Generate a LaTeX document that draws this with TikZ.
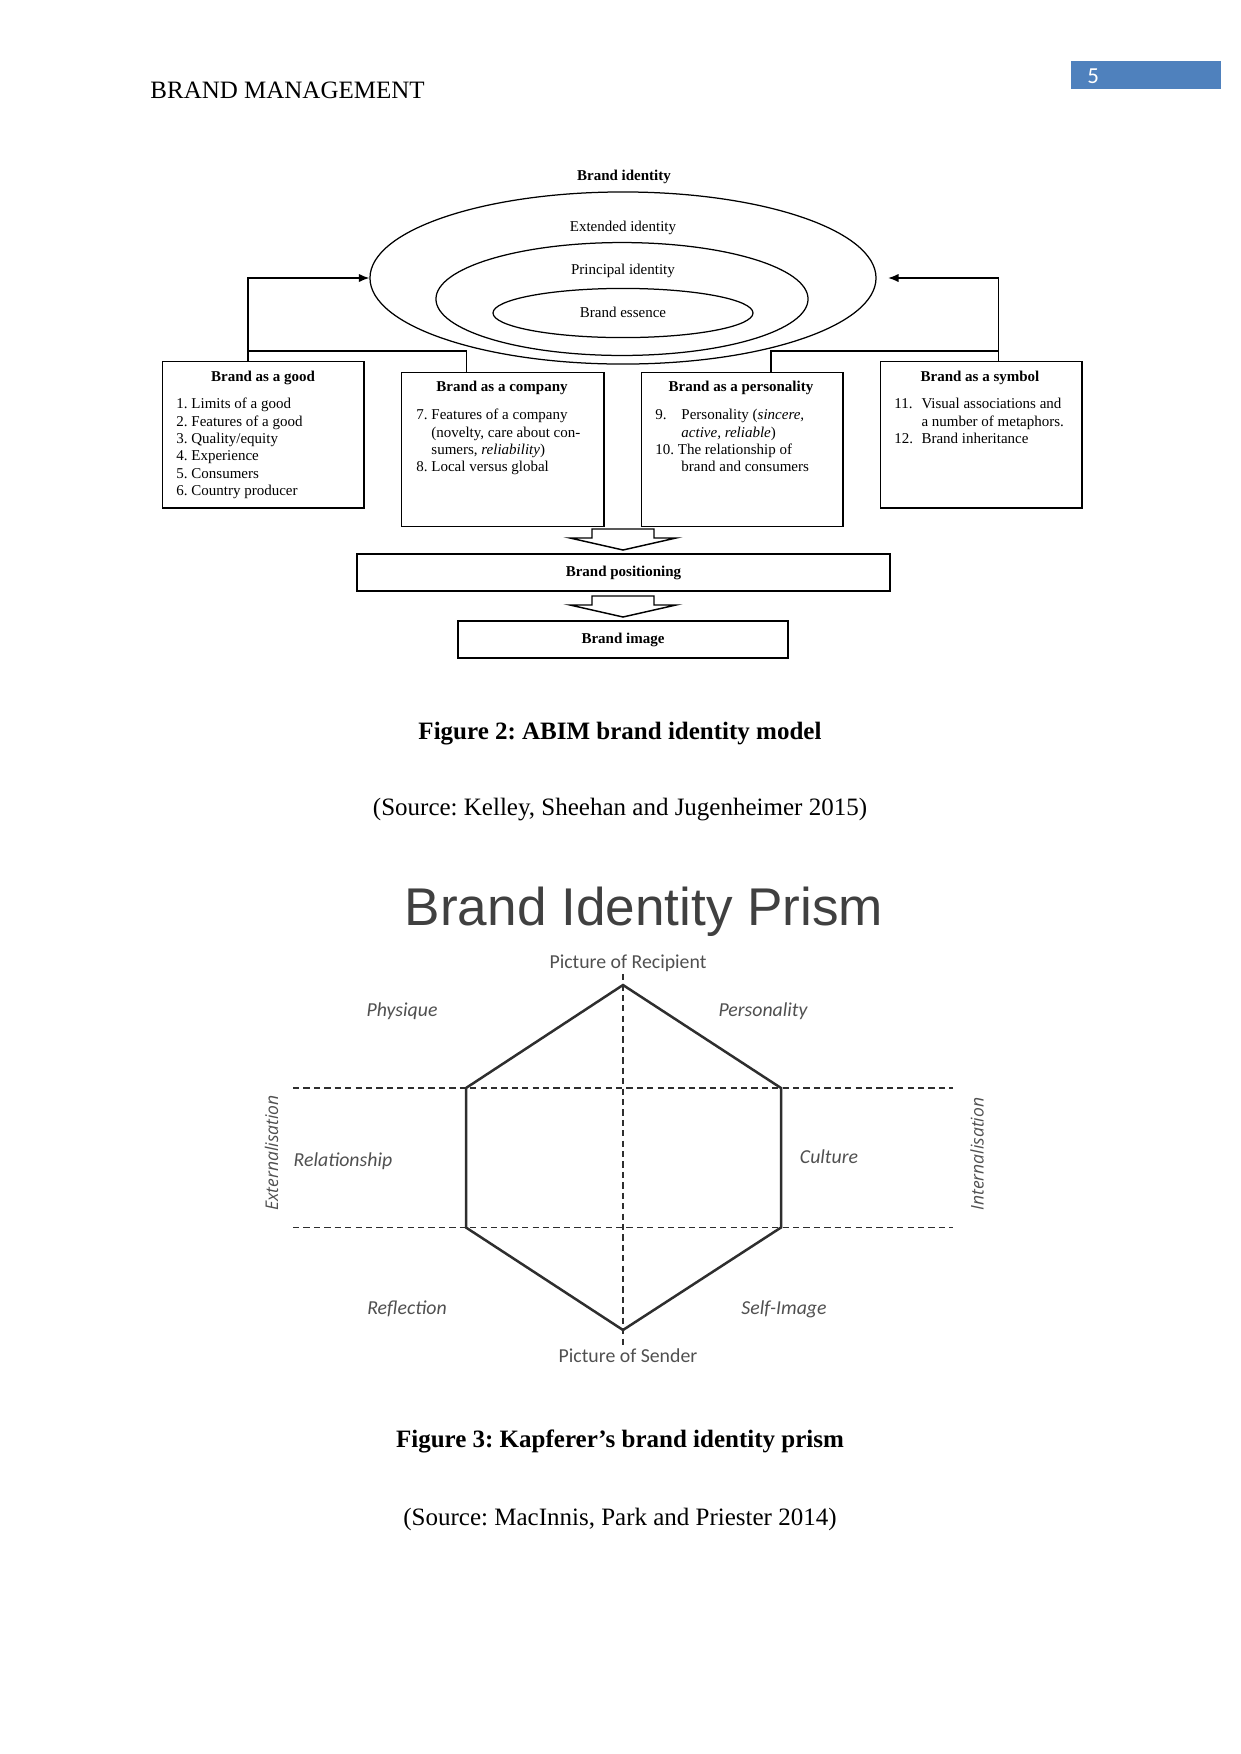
\documentclass[tikz,border=0pt]{standalone}
\usepackage{fontspec}
\setmainfont{Liberation Serif}
\newfontfamily\calibrifont{Carlito}
\newfontfamily\opensansfont{Open Sans}
\newfontfamily\prismfont{Liberation Sans}
\usepackage{xcolor}
\usetikzlibrary{arrows.meta,shapes.geometric,positioning}
\frenchspacing

\definecolor{pageblue}{HTML}{4F81BD}
\definecolor{prismgray}{HTML}{404040}
\definecolor{labelgray}{HTML}{505050}
\definecolor{linegray}{HTML}{2E2E2E}

\tikzset{
    figtext/.style={inner sep=0, font=\fontsize{7.2}{8.3}\selectfont},
    boldtext/.style={inner sep=0, font=\fontsize{7.2}{8.3}\selectfont\bfseries},
    factor/.style={draw, line width=0.7pt, anchor=north west, inner sep=0, minimum width=96.5pt},
    stage/.style={draw, line width=0.7pt, inner sep=0, minimum height=17.8pt, font=\fontsize{7.2}{8.3}\selectfont\bfseries},
    ring/.style={draw, ellipse, line width=0.6pt, inner sep=0},
    link/.style={line width=0.7pt},
    caption/.style={inner sep=0, anchor=base, font=\fontsize{12}{14}\selectfont},
    facet/.style={inner sep=1pt, text=labelgray, font=\calibrifont\itshape\fontsize{9.5}{11}\selectfont},
    pole/.style={inner sep=1pt, text=labelgray, font=\calibrifont\fontsize{9.5}{11}\selectfont},
    axislabel/.style={inner sep=0, text=labelgray, rotate=90, font=\opensansfont\itshape\fontsize{8.4}{10}\selectfont},
    prism/.style={draw=linegray, line width=1.2pt, line join=miter},
    guide/.style={draw=linegray, line width=0.5pt, dash pattern=on 3pt off 2pt}
}

\begin{document}
\begin{tikzpicture}[x=0.48pt, y=-0.48pt]
    \useasboundingbox (0,0) rectangle (1241,1754);

    % Header
    \node[anchor=base west, inner sep=0, font=\fontsize{12}{14}\selectfont] (header) at (150,98.5) {BRAND MANAGEMENT};
    \node[fill=pageblue, anchor=north west, minimum width=72pt, minimum height=13pt, inner sep=0] (pagebox) at (1071,61) {};
    \node[anchor=base west, inner sep=0, text=white, font=\calibrifont\fontsize{11}{13}\selectfont] (pagenum) at (1087,83) {5};

    % Identity rings
    \node[ring, minimum width=242.9pt, minimum height=82.6pt] (outer) at (623,278) {};
    \node[ring, minimum width=178.6pt, minimum height=54.2pt] (middle) at (622,299) {};
    \node[ring, minimum width=124.8pt, minimum height=23.6pt] (inner) at (623,313) {};
    \node[boldtext] (identity) at (624,177) {Brand identity};
    \node[figtext] (extended) at (623,228) {Extended identity};
    \node[figtext] (principal) at (623,271) {Principal identity};
    \node[figtext] (essence) at (623,312) {Brand essence};

    % Four perspectives
    \node[factor, minimum height=70.1pt] (good) at (162,361) {};
    \node[factor, minimum height=73.9pt, minimum width=97pt] (company) at (401,372) {};
    \node[factor, minimum height=73.9pt] (personality) at (641,372) {};
    \node[factor, minimum height=70.1pt] (symbol) at (880,361) {};

    \node[boldtext] (goodtitle) at (263,378) {Brand as a good};
    \node[boldtext] (companytitle) at (502,388) {Brand as a company};
    \node[boldtext] (personalitytitle) at (741,388) {Brand as a personality};
    \node[boldtext] (symboltitle) at (980,378) {Brand as a symbol};

    \node[figtext, align=left, anchor=north west] (goodlist) at (176,398)
        {1. Limits of a good\\2. Features of a good\\3. Quality/equity\\4. Experience\\5. Consumers\\6. Country producer};
    \node[figtext, align=left, anchor=north west] (companylist) at (416,409)
        {7. Features of a company\\\phantom{7. }(novelty, care about con-\\\phantom{7. }sumers, \textit{reliability})\\8. Local versus global};
    \node[figtext, align=left, anchor=north west] (personalitylist) at (655,409)
        {\makebox[12.5pt][l]{9.}Personality (\textit{sincere,}\\\hspace*{12.5pt}\textit{active, reliable})\\10. The relationship of\\\hspace*{12.5pt}brand and consumers};
    \node[figtext, align=left, anchor=north west] (symbollist) at (894,398)
        {\makebox[13pt][l]{11.}Visual associations and\\\hspace*{13pt}a number of metaphors.\\\makebox[13pt][l]{12.}Brand inheritance};

    % Links to the identity
    \draw[link, -{Latex[length=5pt,width=4pt]}] ([xshift=-7.4pt]good.north) |- (outer.west);
    \draw[link, -{Latex[length=5pt,width=4pt]}, shorten >=5.5pt] ([xshift=8.4pt]symbol.north) |- (outer.east);
    \draw[link] ([xshift=-7.4pt,yshift=4.8pt]good.north) -| ([xshift=-17.3pt]company.north);
    \draw[link] ([xshift=8.4pt,yshift=4.8pt]symbol.north) -| ([xshift=13.7pt]personality.north);

    % Positioning and image
    \node[stage, minimum width=255.8pt] (positioning) at (623.5,572.5) {Brand positioning};
    \node[stage, minimum width=158.4pt] (image) at (623,639.5) {Brand image};
    \foreach \y in {529,596} {
        \draw[link, line join=miter] (592,\y) -- (592,\y+9) -- (570,\y+9) -- (623,\y+21)
            -- (676,\y+9) -- (654,\y+9) -- (654,\y) -- cycle;
    }

    % Caption of figure 2
    \node[caption] (fig2cap) at (620,739) {\bfseries Figure 2: ABIM brand identity model};
    \node[caption] (fig2src) at (620,815) {(Source: Kelley, Sheehan and Jugenheimer 2015)};

    % Prism
    \node[anchor=base, inner sep=0, text=prismgray, font=\prismfont\fontsize{25.5}{30}\selectfont] (prismtitle) at (644,925) {Brand Identity Prism};

    \coordinate (ptop) at (623,985);
    \coordinate (pul) at (466,1088);
    \coordinate (pur) at (781,1088);
    \coordinate (pll) at (466,1227.5);
    \coordinate (plr) at (781,1227.5);
    \coordinate (pbot) at (623,1330);
    \coordinate (gl1) at (293,1088);
    \coordinate (gr1) at (953,1088);
    \coordinate (gl2) at (293,1227.5);
    \coordinate (gr2) at (953,1227.5);

    \draw[guide] (gl1) -- (gr1);
    \draw[guide] (gl2) -- (gr2);
    \draw[prism] (ptop) -- (pur) -- (plr) -- (pbot) -- (pll) -- (pul) -- cycle;

    % Prism labels
    \node[pole] (recipient) at (628,963) {Picture of Recipient};
    \node[pole] (sender) at (628,1356) {Picture of Sender};
    \node[facet] (physique) at (402,1011) {Physique};
    \node[facet] (personalityfacet) at (763,1011) {Personality};
    \node[facet] (relationship) at (343,1161) {Relationship};
    \node[facet] (culture) at (829,1157) {Culture};
    \node[facet] (reflection) at (407,1309) {Reflection};
    \node[facet] (selfimage) at (784,1309) {Self-Image};
    \node[axislabel] (external) at (271.5,1153) {Externalisation};
    \node[axislabel] (internal) at (977,1154) {Internalisation};

    \draw[guide] (recipient.south -| ptop) -- (sender.north -| ptop);

    % Caption of figure 3
    \node[caption] (fig3cap) at (620,1447) {\bfseries Figure 3: Kapferer’s brand identity prism};
    \node[caption] (fig3src) at (620,1525) {(Source: MacInnis, Park and Priester 2014)};

\end{tikzpicture}
\end{document}
